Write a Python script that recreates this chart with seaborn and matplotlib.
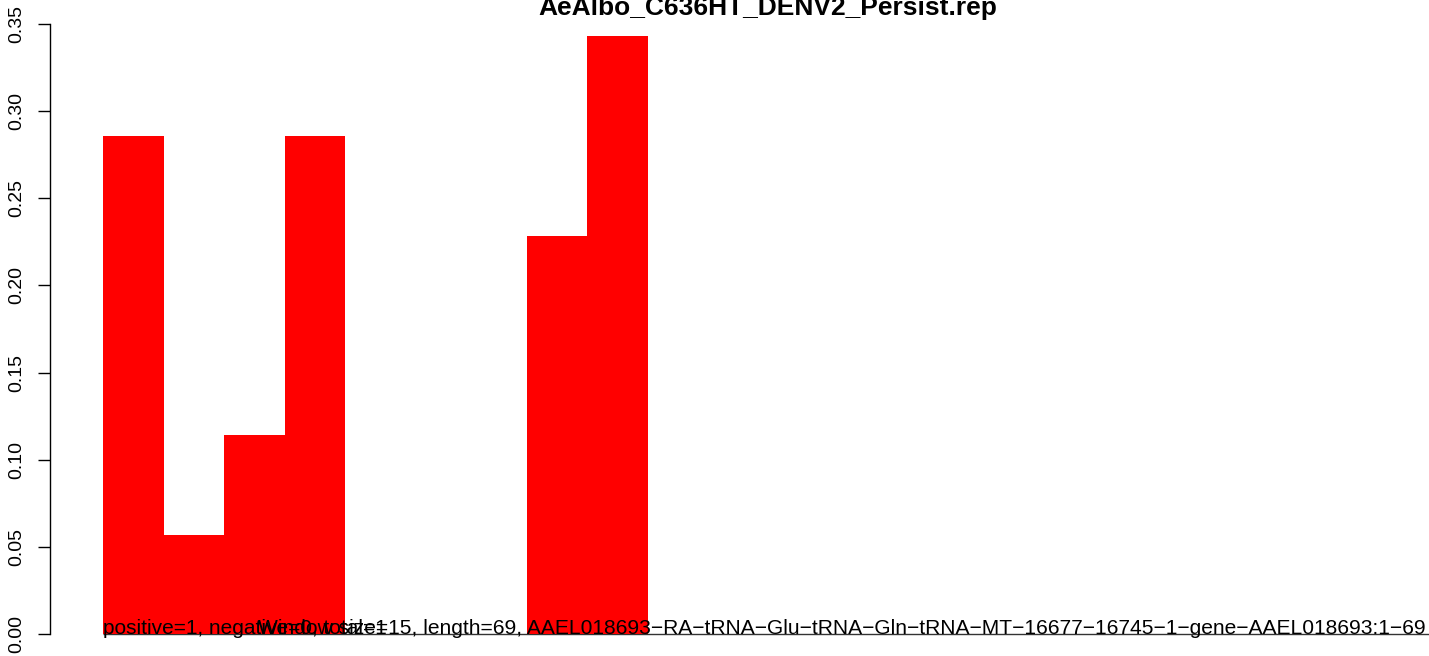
import numpy as np
import pandas as pd
import matplotlib
matplotlib.use("Agg")
import matplotlib.pyplot as plt
import seaborn as sns

# Values (fraction per window position)
positions = list(range(1, 23))
values = [0.2857, 0.0571, 0.1143, 0.2857, 0.0, 0.0, 0.0, 0.2286, 0.3429,
          0.0, 0.0, 0.0, 0.0, 0.0, 0.0, 0.0, 0.0, 0.0, 0.0, 0.0, 0.0, 0.0]
y_ticks = [0.00, 0.05, 0.10, 0.15, 0.20, 0.25, 0.30, 0.35]
title = "AeAlbo_C636HT_DENV2_Persist.rep"
count_label = "positive=1, negative=0, total=1"
info_label = ("Window size=15, length=69, AAEL018693\u2212RA\u2212tRNA\u2212Glu\u2212tRNA\u2212Gln"
              "\u2212tRNA\u2212MT\u221216677\u221216745\u22121\u2212gene\u2212AAEL018693:1\u221269")

df = pd.DataFrame({"pos": positions, "value": values})

sns.set_style("white")
plt.rcParams["font.family"] = ["Liberation Sans", "DejaVu Sans"]
plt.rcParams["text.color"] = "black"
plt.rcParams["ytick.color"] = "black"

fig = plt.figure(figsize=(14.29, 6.56), dpi=100)
# axes runs past the right edge of the figure, like the R device did
ax = fig.add_axes([50 / 1429, -0.0029, 1438 / 1429, 0.9838])

sns.barplot(data=df, x="pos", y="value", color="#FF0000", width=1.0,
            saturation=1, edgecolor="none", linewidth=0, ax=ax)
n = len(positions)
ax.hlines(0, -0.5, n + 1, color="#333333", lw=1, zorder=0.5)

ax.set_xlim(-0.5 - 0.04 * n, n - 0.5 + 0.04 * n)
ax.set_ylim(-0.0137, 0.3566)
ax.set_xlabel("")
ax.set_ylabel("")
ax.set_xticks([])
ax.set_yticks(y_ticks)
ax.set_yticklabels([f"{t:.2f}" for t in y_ticks], rotation=90, va="center",
                   fontsize=14, color="black")
ax.tick_params(axis="y", length=8.6, width=1, pad=9, color="black", left=True)

for s in ["top", "right", "bottom"]:
    ax.spines[s].set_visible(False)
ax.spines["left"].set_bounds(0, 0.35)
ax.spines["left"].set_color("black")
ax.spines["left"].set_linewidth(1)

ax.text(-0.5, 0, count_label, fontsize=15, color="black",
        ha="left", va="baseline", zorder=5)
ax.text(2.05, 0, info_label, fontsize=15.1, color="black",
        ha="left", va="baseline", zorder=5)

fig.text(768 / 1429, 1 - 15.5 / 656, title, fontsize=19, fontweight="bold",
         color="black", ha="center", va="baseline")

fig.savefig("out.png", dpi=100)
